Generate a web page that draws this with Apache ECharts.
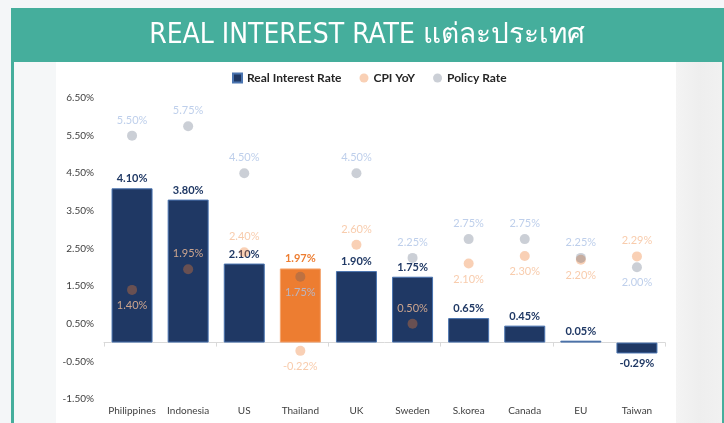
<!DOCTYPE html>
<html>
<head>
<meta charset="utf-8">
<script src="https://cdn.jsdelivr.net/npm/echarts@6/dist/echarts.min.js"></script>
<style>
  html, body { margin: 0; padding: 0; background: #f4f6f8; }
  #realRate { width: 724px; height: 423px; }
</style>
</head>
<body>
<div id="realRate"></div>
<script>
// data
const categories = ['Philippines', 'Indonesia', 'US', 'Thailand', 'UK', 'Sweden', 'S.korea', 'Canada', 'EU', 'Taiwan']
const realRate = [4.10, 3.80, 2.10, 1.97, 1.90, 1.75, 0.65, 0.45, 0.05, -0.29]
const cpiYoY = [1.40, 1.95, 2.40, -0.22, 2.60, 0.50, 2.10, 2.30, 2.20, 2.29]
const policyRate = [5.50, 5.75, 4.50, 1.75, 4.50, 2.25, 2.75, 2.75, 2.25, 2.00]
const highlight = 'Thailand'

// where each point's label sits (above / below the dot)
const cpiLabelPos = ['bottom', 'top', 'top', 'bottom', 'top', 'top', 'bottom', 'bottom', 'bottom', 'top']
const policyLabelPos = ['top', 'top', 'top', 'bottom', 'top', 'top', 'top', 'top', 'top', 'bottom']

const NAVY = '#1f3864'
const ORANGE = '#ed7d31'
const TEAL = '#45ae9c'
const font = 'Lato, "Open Sans", sans-serif'
const pct = v => v.toFixed(2) + '%'

const myChart = echarts.init(document.getElementById('realRate'))

const barData = realRate.map((v, i) => {
  const hot = categories[i] === highlight
  return {
    value: v,
    itemStyle: hot ? { color: ORANGE, borderColor: '#f4a46e' } : undefined,
    label: {
      position: v < 0 ? 'bottom' : 'top',
      color: hot ? ORANGE : NAVY
    }
  }
})

const option = {
  animation: false,
  backgroundColor: '#f4f6f8',
  textStyle: { fontFamily: font },
  graphic: [
    // teal frame + header
    { type: 'rect', silent: true, z: -10, shape: { x: 11, y: 8, width: 713, height: 430 }, style: { fill: TEAL } },
    { type: 'rect', silent: true, z: -9, shape: { x: 14, y: 62, width: 708, height: 380 }, style: { fill: '#f5f7f8' } },
    {
      type: 'rect', silent: true, z: -9, shape: { x: 676, y: 62, width: 46, height: 380 },
      style: {
        fill: new echarts.graphic.LinearGradient(0, 0, 1, 0, [
          { offset: 0, color: '#f4f4f4' },
          { offset: 0.5, color: '#eeeeee' },
          { offset: 1, color: '#f1f1f1' }
        ])
      }
    },
    { type: 'rect', silent: true, z: -8, shape: { x: 56, y: 62, width: 620, height: 380 }, style: { fill: '#ffffff' } },
    {
      type: 'text', silent: true, z: 10,
      x: 367, y: 36,
      style: {
        text: 'REAL INTEREST RATE แต่ละประเทศ',
        fill: '#ffffff',
        font: '28px "Liberation Sans Narrow", "DejaVu Sans Condensed", sans-serif',
        align: 'center',
        verticalAlign: 'middle'
      }
    }
  ],
  legend: {
    top: 67,
    left: 227,
    itemWidth: 9,
    itemHeight: 9,
    itemGap: 18,
    textStyle: { color: '#262626', fontSize: 12, fontWeight: 'bold', fontFamily: font },
    data: [
      { name: 'Real Interest Rate', icon: 'rect' },
      { name: 'CPI YoY', icon: 'circle' },
      { name: 'Policy Rate', icon: 'circle' }
    ]
  },
  grid: {
    top: 98,
    left: 104,
    right: 59,
    bottom: 24
  },
  xAxis: [
    {
      type: 'category',
      data: categories,
      axisLine: { onZero: true, lineStyle: { color: '#d9d9d9' } },
      axisTick: { show: true, length: 4, lineStyle: { color: '#d9d9d9' } },
      axisLabel: { show: false }
    },
    {
      type: 'category',
      data: categories,
      position: 'bottom',
      axisLine: { show: false, onZero: false },
      axisTick: { show: false },
      axisLabel: { color: '#404040', fontSize: 10, margin: 7, interval: 0, fontFamily: font }
    }
  ],
  yAxis: {
    type: 'value',
    min: -1.5,
    max: 6.5,
    interval: 1,
    splitLine: { show: false },
    axisLine: { show: false },
    axisTick: { show: false },
    axisLabel: {
      color: '#404040',
      fontSize: 10,
      margin: 10,
      fontFamily: font,
      formatter: v => pct(v)
    }
  },
  series: [
    {
      name: 'Real Interest Rate',
      type: 'bar',
      xAxisIndex: 0,
      data: barData,
      barWidth: 41,
      itemStyle: { color: NAVY, borderColor: '#4a74b0', borderWidth: 1 },
      label: {
        show: true,
        distance: 4,
        fontSize: 11,
        fontWeight: 'bold',
        fontFamily: font,
        formatter: p => pct(p.value)
      },
      z: 2
    },
    {
      name: 'CPI YoY',
      type: 'scatter',
      xAxisIndex: 0,
      symbolSize: 10,
      data: cpiYoY.map((v, i) => ({ value: v, label: { position: cpiLabelPos[i] } })),
      itemStyle: { color: 'rgba(237,125,49,0.45)' },
      label: {
        show: true,
        distance: 5,
        color: '#f6bf98',
        fontSize: 11,
        fontFamily: font,
        formatter: p => pct(p.value)
      },
      z: 3
    },
    {
      name: 'Policy Rate',
      type: 'scatter',
      xAxisIndex: 0,
      symbolSize: 10,
      data: policyRate.map((v, i) => ({ value: v, label: { position: policyLabelPos[i] } })),
      itemStyle: { color: 'rgba(68,84,106,0.35)' },
      label: {
        show: true,
        distance: 5,
        color: '#aec3e6',
        fontSize: 11,
        fontFamily: font,
        formatter: p => pct(p.value)
      },
      z: 4
    }
  ]
}

myChart.setOption(option)
</script>
</body>
</html>
